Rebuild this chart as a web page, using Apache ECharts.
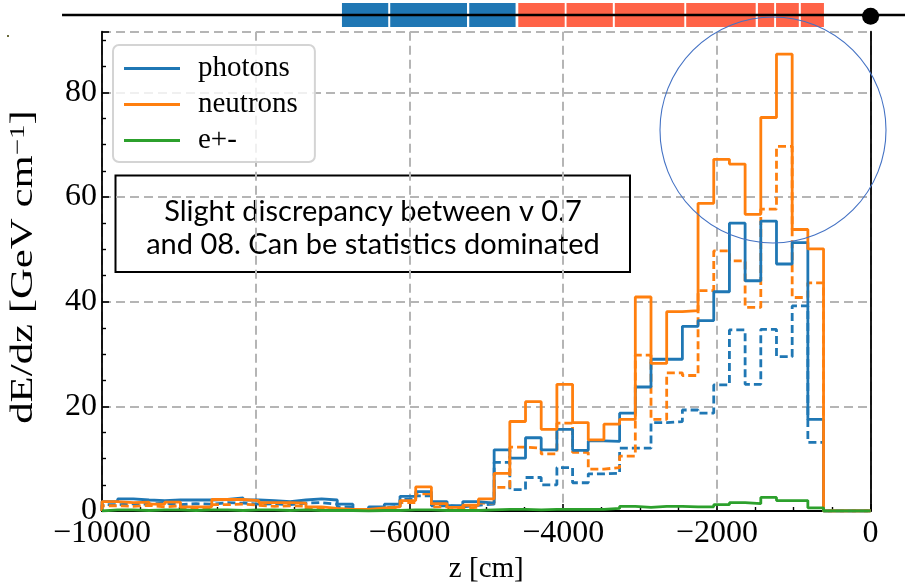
<!DOCTYPE html>
<html>
<head>
<meta charset="utf-8">
<script src="https://cdn.jsdelivr.net/npm/echarts@6/dist/echarts.min.js"></script>
<style>
  html, body { margin: 0; padding: 0; background: #ffffff; }
  #chart { width: 905px; height: 582px; }
</style>
</head>
<body>
<div id="chart"></div>
<script>
// Histogram binning along z (cm): 49 equal bins from -10000 to 0
const zMin = -10000;
const zMax = 0;
const nBins = 49;

// Energy deposit per bin, dE/dz [GeV/cm] -- current version (solid)
const photons = [
  1.8, 2.3, 2.1, 2.0, 2.1, 2.1, 2.1, 2.2, 2.5, 2.1,
  2.0, 1.8, 2.1, 2.3, 2.1, 1.3, 0.3, 0.8, 1.3, 2.8,
  3.7, 1.8, 1.0, 1.8, 1.5, 11.7, 10.1, 14.0, 11.7, 15.6,
  11.6, 13.4, 13.3, 18.7, 23.7, 29.0, 29.0, 35.3, 36.4, 41.9,
  55.0, 44.0, 55.4, 47.2, 51.3, 17.5, 0, 0, 0
];
const neutrons = [
  1.8, 1.6, 1.7, 1.3, 1.7, 0.8, 0.8, 2.2, 2.2, 2.0,
  1.6, 1.6, 1.5, 0.8, 0.5, 0.3, 0.3, 0.6, 0.8, 2.0,
  4.6, 1.4, 0.7, 1.1, 2.3, 7.2, 17.1, 20.9, 15.6, 24.2,
  16.9, 13.6, 16.6, 17.5, 40.9, 28.2, 38.1, 38.3, 58.8, 67.2,
  66.3, 56.7, 75.2, 87.3, 53.8, 50.1, 0, 0, 0
];
const electrons = [
  0.2, 0.2, 0.1, 0.2, 0.2, 0.1, 0.2, 0.2, 0.1, 0.2,
  0.2, 0.1, 0.2, 0.1, 0.1, 0.1, 0.0, 0.1, 0.1, 0.2,
  0.2, 0.1, 0.1, 0.1, 0.2, 0.3, 0.3, 0.2, 0.3, 0.3,
  0.3, 0.3, 0.5, 0.9, 0.7, 0.9, 0.9, 0.8, 0.8, 1.2,
  1.6, 1.4, 2.6, 2.0, 2.0, 0.6, 0, 0, 0
];

// Previous version (dashed)
const photonsPrev = [
  1.2, 1.4, 1.3, 1.5, 1.2, 1.4, 1.3, 1.6, 1.5, 1.3,
  1.4, 1.2, 1.5, 1.6, 1.3, 0.8, 0.2, 0.6, 0.9, 2.2,
  2.9, 1.0, 0.8, 1.1, 1.3, 9.3, 4.1, 6.4, 5.0, 8.3,
  5.4, 7.1, 7.2, 12.0, 12.0, 16.9, 17.1, 19.3, 18.7, 24.1,
  34.6, 24.2, 34.7, 29.5, 39.2, 13.1, 0, 0, 0
];
const neutronsPrev = [
  1.0, 0.9, 1.1, 0.8, 1.0, 0.6, 0.5, 1.2, 1.3, 1.1,
  0.9, 1.0, 0.9, 0.5, 0.3, 0.2, 0.2, 0.4, 0.6, 1.6,
  3.3, 0.8, 0.5, 0.7, 1.5, 4.5, 12.2, 12.0, 10.9, 16.8,
  11.2, 8.0, 8.3, 10.5, 29.8, 17.5, 26.4, 25.9, 42.1, 49.7,
  47.8, 38.9, 57.7, 69.7, 40.8, 43.6, 0, 0, 0
];

// Axis ticks
const xTicks = [-10000, -8000, -6000, -4000, -2000, 0];
const yTicks = [0, 20, 40, 60, 80];
const yTop = 91.6;

// Detector modules along z (cm) shown in the strip above the plot
const emModules = [[-6878, -6276], [-6250, -5251], [-5222, -4619]];
const hadModules = [[-4584, -3980], [-3956, -3354], [-3328, -2424], [-2399, -1495],
                    [-1466, -1255], [-1230, -934], [-908, -607]];
const beamLine = [-10520, 450];
const interactionPoint = 0;

const binEdges = [];
for (let i = 0; i <= nBins; i++) binEdges.push(zMin + i * (zMax - zMin) / nBins);

// Outline of a step histogram (no bottom edge), as matplotlib histtype='step'
function stepOutline(values) {
  const pts = [[binEdges[0], 0]];
  values.forEach((v, i) => pts.push([binEdges[i], v]));
  pts.push([binEdges[nBins], values[nBins - 1]]);
  pts.push([binEdges[nBins], 0]);
  return pts;
}

const C_BLUE = '#1f77b4', C_ORANGE = '#ff7f0e', C_GREEN = '#2ca02c';
const SERIF = '"Liberation Serif", "DejaVu Serif", serif';

function histSeries(name, values, color, dashed) {
  return {
    name: name,
    type: 'line',
    step: 'end',
    xAxisIndex: 0, yAxisIndex: 0,
    data: stepOutline(values),
    symbol: 'none',
    showSymbol: false,
    clip: true,
    lineStyle: { color: color, width: 2.8, type: dashed ? [8, 4] : 'solid', cap: 'butt' },
    itemStyle: { color: color },
    emphasis: { disabled: true },
    animation: false,
    z: 3
  };
}

const chart = echarts.init(document.getElementById('chart'), null, { renderer: 'canvas' });

const tickLabelStyle = { color: '#000', fontFamily: SERIF, fontSize: 32 };
const gridLine = { show: true, lineStyle: { color: '#b5b5b5', width: 2, type: [9, 5] } };

const option = {
  backgroundColor: '#ffffff',
  animation: false,
  grid: [
    { left: 102, right: 34.4, top: 31.7, bottom: 71, containLabel: false, outerBoundsMode: 'none' },
    { left: 102, right: 34.4, top: 3, height: 24, containLabel: false, outerBoundsMode: 'none' }
  ],
  xAxis: [
    {
      type: 'value', gridIndex: 0, min: zMin, max: zMax, interval: 2000,
      axisLine: { show: true, onZero: false, lineStyle: { color: '#000', width: 1.8 } },
      axisTick: { show: true, inside: true, length: 7, lineStyle: { color: '#000', width: 1.6 } },
      minorTick: { show: true, splitNumber: 4, length: 4, lineStyle: { color: '#000', width: 1.4 } },
      axisLabel: {
        ...tickLabelStyle, margin: 7,
        formatter: v => (xTicks.indexOf(v) >= 0 ? (v < 0 ? '\u2212' + Math.abs(v) : String(v)) : '')
      },
      splitLine: gridLine,
      name: 'z [cm]', nameLocation: 'middle', nameGap: 44,
      nameTextStyle: { color: '#000', fontFamily: SERIF, fontSize: 29 }
    },
    {
      type: 'value', gridIndex: 0, position: 'top', min: zMin, max: zMax, interval: 2000,
      axisLine: { show: true, lineStyle: { color: '#000', width: 1.8 } },
      axisTick: { show: false }, axisLabel: { show: false }, splitLine: { show: false }
    },
    { type: 'value', gridIndex: 1, min: zMin, max: zMax, show: false }
  ],
  yAxis: [
    {
      type: 'value', gridIndex: 0, min: 0, max: yTop, interval: 20,
      axisLine: { show: true, onZero: false, lineStyle: { color: '#000', width: 1.8 } },
      axisTick: { show: true, inside: true, length: 7, lineStyle: { color: '#000', width: 1.6 } },
      minorTick: { show: true, splitNumber: 4, length: 4, lineStyle: { color: '#000', width: 1.4 } },
      axisLabel: {
        ...tickLabelStyle, margin: 5, showMaxLabel: false,
        formatter: v => (yTicks.indexOf(v) >= 0 ? String(v) : '')
      },
      splitLine: gridLine
    },
    {
      type: 'value', gridIndex: 0, position: 'right', min: 0, max: yTop,
      axisLine: { show: true, lineStyle: { color: '#000', width: 1.8 } },
      axisTick: { show: false }, axisLabel: { show: false }, splitLine: { show: false }
    },
    { type: 'value', gridIndex: 1, min: 0, max: 1, show: false }
  ],
  legend: {
    data: ['photons', 'neutrons', 'e+-'],
    orient: 'vertical',
    left: 113, top: 45,
    padding: [9, 17, 7, 11],
    icon: 'rect',
    itemWidth: 56, itemHeight: 3, itemGap: 7,
    textStyle: { color: '#000', fontFamily: SERIF, fontSize: 29, lineHeight: 29, padding: [0, 0, 0, 13] },
    backgroundColor: 'rgba(255,255,255,0.8)',
    borderColor: '#d4d4d4', borderWidth: 2, borderRadius: 6,
    selectedMode: false
  },
  series: [
    histSeries('photons (previous)', photonsPrev, C_BLUE, true),
    histSeries('neutrons (previous)', neutronsPrev, C_ORANGE, true),
    histSeries('photons', photons, C_BLUE, false),
    histSeries('neutrons', neutrons, C_ORANGE, false),
    histSeries('e+-', electrons, C_GREEN, false),
    {
      name: 'modules', type: 'custom', xAxisIndex: 2, yAxisIndex: 2, clip: false, silent: true,
      data: emModules.map(m => [m[0], m[1], 0]).concat(hadModules.map(m => [m[0], m[1], 1])),
      renderItem: function (params, api) {
        const a = api.coord([api.value(0), 1]);
        const b = api.coord([api.value(1), 0]);
        return {
          type: 'rect',
          shape: { x: a[0], y: a[1], width: b[0] - a[0], height: b[1] - a[1] },
          style: { fill: api.value(2) === 0 ? '#1f77b4' : '#ff6347' }
        };
      },
      z: 5
    },
    {
      name: 'beam', type: 'custom', xAxisIndex: 2, yAxisIndex: 2, clip: false, silent: true,
      data: [[beamLine[0], beamLine[1], interactionPoint]],
      renderItem: function (params, api) {
        const p0 = api.coord([api.value(0), 0.5]);
        const p1 = api.coord([api.value(1), 0.5]);
        const ip = api.coord([api.value(2), 0.45]);
        return {
          type: 'group',
          children: [
            { type: 'line', shape: { x1: p0[0], y1: p0[1], x2: p1[0], y2: p1[1] },
              style: { stroke: '#000', lineWidth: 2.6 } },
            { type: 'circle', shape: { cx: ip[0], cy: ip[1], r: 8.5 }, style: { fill: '#000' } }
          ]
        };
      },
      z: 6
    }
  ],
  graphic: [
    {
      type: 'group', x: 24, y: 267, rotation: Math.PI / 2, z: 50,
      children: [{
        type: 'text', scaleX: 1.38,
        style: {
          text: '{n|dE/dz [GeV cm}{s|\u22121}{n|]}',
          align: 'center', verticalAlign: 'middle',
          rich: {
            n: { fill: '#000', fontFamily: SERIF, fontSize: 31 },
            s: { fill: '#000', fontFamily: SERIF, fontSize: 21, verticalAlign: 'top', padding: [0, 0, 12, 0] }
          }
        }
      }]
    },
    {
      type: 'group', z: 100,
      children: [
        { type: 'rect', shape: { x: 115.5, y: 175.5, width: 514.5, height: 96.5 },
          style: { fill: '#fff', stroke: '#000', lineWidth: 2 } },
        { type: 'text', x: 373, y: 212,
          style: { text: 'Slight discrepancy between v 0.7', fill: '#000', font: '29px Lato, "Open Sans", sans-serif',
                   align: 'center', verticalAlign: 'middle' } },
        { type: 'text', x: 373, y: 245,
          style: { text: 'and 08. Can be statistics dominated', fill: '#000', font: '29px Lato, "Open Sans", sans-serif',
                   align: 'center', verticalAlign: 'middle' } }
      ]
    },
    { type: 'circle', z: 101, shape: { cx: 773, cy: 130, r: 113 },
      style: { fill: 'none', stroke: '#4472c4', lineWidth: 1.1 } },
    { type: 'rect', z: 101, shape: { x: 7, y: 35, width: 2, height: 2 }, style: { fill: '#6b6b3a' } }
  ]
};

chart.setOption(option);
</script>
</body>
</html>
